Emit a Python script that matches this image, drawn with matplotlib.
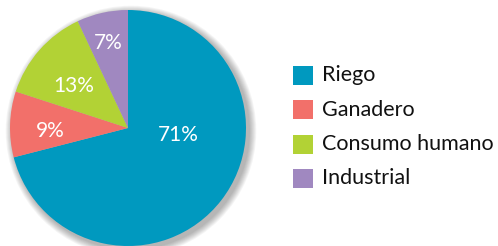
import matplotlib
matplotlib.use("Agg")
import matplotlib.pyplot as plt
from matplotlib.patches import Circle, Rectangle

categories = ["Riego", "Ganadero", "Consumo humano", "Industrial"]
values = [71, 9, 13, 7]
colors = ["#0099bf", "#f2706a", "#b2d235", "#a088c0"]
pct_labels = ["71%", "9%", "13%", "7%"]

# label offsets from the pie centre, in pixels (x right, y up)
label_offsets = [(50, -7), (-78, -3), (-54, 42), (-20, 85)]

plt.rcParams["font.family"] = ["Lato", "DejaVu Sans"]

W, H = 498, 246
fig = plt.figure(figsize=(W / 100, H / 100), dpi=100)
ax = fig.add_axes([0, 0, 1, 1])

cx, cy, r = 128, H - 128, 118

# soft shadow
for i in range(8):
    ax.add_patch(Circle((cx + 3, cy - 3), r + 1 + i * 0.9, color="#000000",
                        alpha=0.04, lw=0, zorder=0))

ax.pie(values, colors=colors, startangle=90, counterclock=False,
       center=(cx, cy), radius=r, frame=True,
       wedgeprops=dict(linewidth=0))
ax.set_xlim(0, W)
ax.set_ylim(0, H)
ax.axis("off")

for lab, (dx, dy) in zip(pct_labels, label_offsets):
    ax.text(cx + dx, cy + dy, lab, color="white", fontsize=15,
            ha="center", va="center")

# legend
for i, (cat, col) in enumerate(zip(categories, colors)):
    y = H - (75 + i * 34.5)
    ax.add_patch(Rectangle((293, y - 9.5), 20, 19, color=col, lw=0))
    ax.text(322, y, cat, fontsize=15.5, color="#111111", va="center", ha="left")

fig.savefig("out.png", dpi=100)
